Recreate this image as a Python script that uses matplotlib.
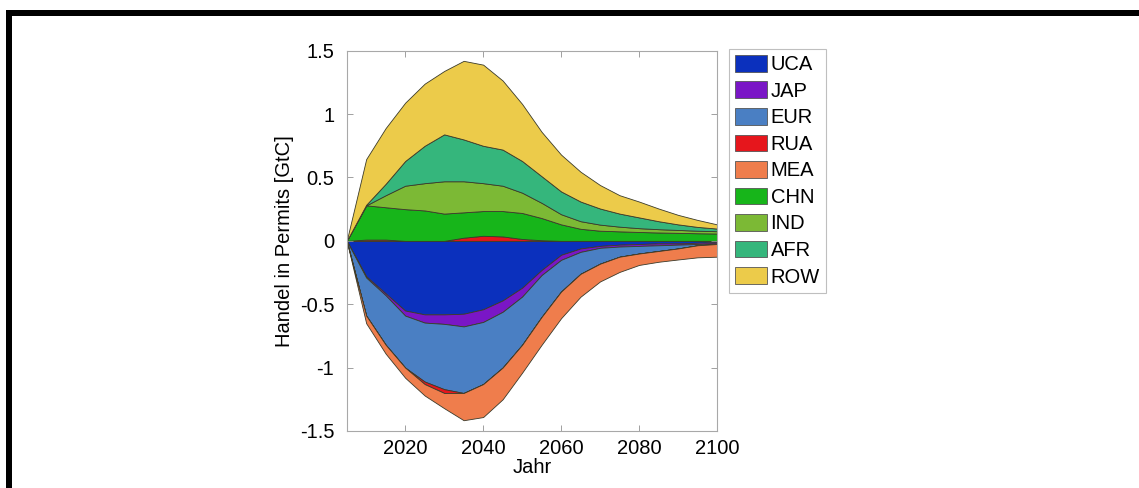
import numpy as np
import matplotlib
matplotlib.use("Agg")
import matplotlib.pyplot as plt
from matplotlib.patches import Rectangle, Patch

plt.rcParams['font.family'] = ['Liberation Sans', 'DejaVu Sans']

years = [2005, 2010, 2015, 2020, 2025, 2030, 2035, 2040, 2045, 2050,
         2055, 2060, 2065, 2070, 2075, 2080, 2085, 2090, 2095, 2100]

regions = ["UCA", "JAP", "EUR", "RUA", "MEA", "CHN", "IND", "AFR", "ROW"]

UCA = [0, -0.28, -0.415, -0.55, -0.58, -0.58, -0.575, -0.54, -0.47, -0.37,
       -0.23, -0.11, -0.06, -0.04, -0.03, -0.025, -0.02, -0.02, -0.015, -0.01]
JAP = [0, -0.01, -0.015, -0.04, -0.065, -0.075, -0.10, -0.10, -0.09, -0.07,
       -0.04, -0.04, -0.027, -0.015, -0.015, -0.015, -0.015, -0.01, -0.01, -0.01]
EUR = [0, -0.30, -0.39, -0.41, -0.465, -0.515, -0.525, -0.49, -0.44, -0.38,
       -0.33, -0.25, -0.173, -0.125, -0.08, -0.06, -0.045, -0.03, -0.01, -0.005]
RUA = [0, 0.01, 0.01, 0.0, -0.02, -0.03, 0.025, 0.04, 0.035, 0.015,
       0.005, 0.0, 0.0, 0.0, 0.0, 0.0, 0.0, 0.0, 0.0, 0.0]
MEA = [0, -0.06, -0.07, -0.08, -0.09, -0.12, -0.215, -0.26, -0.25, -0.22,
       -0.22, -0.21, -0.18, -0.14, -0.12, -0.09, -0.085, -0.087, -0.095, -0.10]
CHN = [0, 0.27, 0.255, 0.25, 0.24, 0.215, 0.20, 0.195, 0.20, 0.205,
       0.175, 0.13, 0.095, 0.08, 0.075, 0.07, 0.066, 0.063, 0.06, 0.058]
IND = [0, 0.0, 0.095, 0.185, 0.215, 0.255, 0.245, 0.22, 0.20, 0.16,
       0.12, 0.08, 0.06, 0.048, 0.037, 0.03, 0.026, 0.023, 0.02, 0.018]
AFR = [0, 0.005, 0.09, 0.195, 0.295, 0.37, 0.33, 0.295, 0.285, 0.25,
       0.21, 0.18, 0.155, 0.127, 0.103, 0.085, 0.063, 0.044, 0.03, 0.021]
ROW = [0, 0.36, 0.44, 0.46, 0.49, 0.50, 0.62, 0.64, 0.545, 0.45,
       0.35, 0.29, 0.235, 0.185, 0.145, 0.125, 0.10, 0.075, 0.055, 0.033]

colors = ["#0b30bd", "#7a16c6", "#4a7fc3", "#e6161c", "#ef7d4c",
          "#17b51a", "#7cb935", "#35b67c", "#eccb4a"]

xticks = [2020, 2040, 2060, 2080, 2100]
yticks = [-1.5, -1, -0.5, 0, 0.5, 1, 1.5]
ytick_labels = ["-1.5", "-1", "-0.5", "0", "0.5", "1", "1.5"]

series = [UCA, JAP, EUR, RUA, MEA, CHN, IND, AFR, ROW]

W, H = 1139, 488
fig = plt.figure(figsize=(W / 100, H / 100), dpi=100)
ax = fig.add_axes([346.7 / W, 1 - 431 / H, (717 - 346.7) / W, (431 - 50.7) / H])

x = np.array(years, dtype=float)
pos_base = np.zeros_like(x)
neg_base = np.zeros_like(x)
edge = "#3a3a2a"
for vals, c in zip(series, colors):
    v = np.array(vals, dtype=float)
    p = np.clip(v, 0, None)
    n = np.clip(v, None, 0)
    if p.any():
        ax.fill_between(x, pos_base, pos_base + p, facecolor=c, edgecolor=edge, linewidth=0.6)
        pos_base = pos_base + p
    if n.any():
        ax.fill_between(x, neg_base, neg_base + n, facecolor=c, edgecolor=edge, linewidth=0.6)
        neg_base = neg_base + n

ax.set_xlim(2005, 2100)
ax.set_ylim(-1.5, 1.5)
ax.set_xticks(xticks)
ax.set_yticks(yticks)
ax.set_yticklabels(ytick_labels)
ax.tick_params(direction='in', length=4, width=0.6, color='#909090', labelsize=14.5,
               top=True, right=True)
ax.tick_params(axis='y', pad=9)
ax.tick_params(axis='x', pad=6)
for s in ax.spines.values():
    s.set_color('#a8a8a8')
    s.set_linewidth(0.8)
ax.set_xlabel("Jahr", fontsize=14.5, labelpad=0)
ax.set_ylabel("Handel in Permits [GtC]", fontsize=14.5, labelpad=4)

handles = [Patch(facecolor=c, edgecolor='#555555', linewidth=0.6) for c in colors]
leg = ax.legend(handles, regions, loc='upper left', bbox_to_anchor=(1.033, 1.005),
                borderaxespad=0, fontsize=14.5, handlelength=1.6, handleheight=0.9,
                handletextpad=0.15, labelspacing=0.36, borderpad=0.3, frameon=True,
                fancybox=False, edgecolor='#b0b0b0')
leg.get_frame().set_linewidth(0.8)

# outer black frame (top and left)
fig.add_artist(Rectangle((6 / W, 0), 6 / W, 1 - 10 / H, transform=fig.transFigure,
                         facecolor='black', edgecolor='none'))
fig.add_artist(Rectangle((6 / W, 1 - 16 / H), 1, 6 / H, transform=fig.transFigure,
                         facecolor='black', edgecolor='none'))

fig.savefig("out.png", dpi=100)
